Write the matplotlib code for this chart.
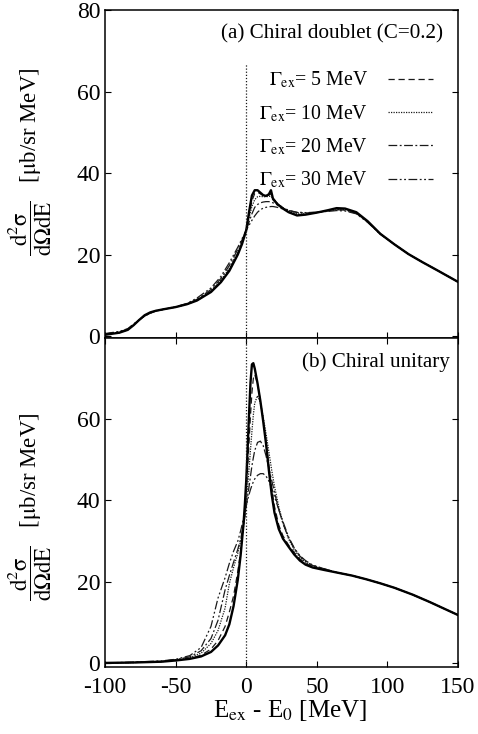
import numpy as np
import matplotlib
matplotlib.use('Agg')
import matplotlib.pyplot as plt

plt.rcParams['font.family'] = ['Liberation Serif', 'DejaVu Serif']
plt.rcParams['mathtext.fontset'] = 'stix'
plt.rcParams['axes.unicode_minus'] = False

# ---- panel (a): chiral doublet (C=0.2)
e_a = [-100, -90, -84, -80, -76, -72, -68, -64, -58, -50, -42, -35, -25, -18, -12, -6, -3, 0, 2, 4, 6, 8, 10, 12,
       14, 16, 17.5, 19, 22, 26, 30, 36, 42, 50, 58, 64, 70, 78, 86, 95, 105, 115, 125, 135, 150]
a_g0 = [0.3, 0.8, 1.5, 2.6, 3.9, 5.1, 5.8, 6.2, 6.6, 7.1, 7.8, 8.7, 10.8, 13.2, 16.0, 20.0, 22.6, 26.0, 30.5, 34.5, 35.8, 35.8, 35.2, 34.6,
        34.4, 34.8, 35.8, 33.6, 32.4, 31.3, 30.4, 29.6, 29.8, 30.3, 30.9, 31.4, 31.3, 30.4, 28.2, 25.1, 22.5, 20.1, 18.1, 16.2, 13.3]
a_g5 = [0.3, 0.8, 1.5, 2.6, 3.9, 5.0, 5.7, 6.2, 6.6, 7.1, 7.8, 8.7, 10.9, 13.4, 16.3, 20.3, 22.9, 26.0, 29.8, 33.2, 35.0, 35.3, 34.9, 34.5,
        34.3, 34.6, 34.9, 34.0, 32.5, 31.3, 30.4, 29.7, 29.9, 30.3, 30.8, 31.3, 31.2, 30.3, 28.1, 25.1, 22.5, 20.1, 18.1, 16.2, 13.3]
a_g10 = [0.4, 0.9, 1.6, 2.7, 3.9, 5.0, 5.7, 6.2, 6.6, 7.1, 7.8, 8.8, 11.1, 13.7, 16.6, 20.6, 23.2, 26.0, 29.0, 31.8, 33.5, 34.2, 34.3, 34.2,
         34.2, 34.3, 34.3, 33.8, 32.6, 31.5, 30.7, 30.0, 30.0, 30.3, 30.8, 31.1, 31.1, 30.2, 28.0, 25.0, 22.5, 20.1, 18.1, 16.2, 13.3]
a_g20 = [0.5, 1.0, 1.7, 2.8, 3.9, 4.9, 5.6, 6.1, 6.6, 7.1, 7.9, 9.0, 11.4, 14.1, 17.3, 21.3, 23.6, 26.0, 28.0, 30.0, 31.6, 32.3, 32.7, 32.9,
         33.0, 33.0, 32.9, 32.7, 32.2, 31.5, 30.9, 30.3, 30.2, 30.4, 30.7, 31.0, 30.9, 30.1, 28.0, 25.0, 22.5, 20.1, 18.1, 16.2, 13.3]
a_g30 = [0.6, 1.1, 1.8, 2.9, 3.9, 4.9, 5.6, 6.1, 6.6, 7.2, 8.0, 9.3, 11.8, 14.6, 18.0, 21.8, 23.9, 26.0, 27.2, 28.4, 29.5, 30.4, 31.0, 31.4,
         31.6, 31.7, 31.8, 31.8, 31.6, 31.2, 30.8, 30.4, 30.3, 30.4, 30.6, 30.8, 30.7, 30.0, 27.9, 25.0, 22.5, 20.1, 18.1, 16.2, 13.3]

# ---- panel (b): chiral unitary
e_b = [-100, -80, -60, -50, -40, -32, -25, -20, -15, -12, -9, -6, -4, -2, -1, 0, 1, 2, 3, 4, 5, 6, 8, 10, 12,
       14, 16, 18, 20, 23, 26, 30, 34, 38, 42, 47, 55, 65, 75, 85, 95, 105, 118, 130, 150]
b_g0 = [0.0, 0.1, 0.3, 0.6, 1.0, 1.6, 2.7, 4.3, 6.8, 9.5, 14.0, 20.5, 26.5, 34.0, 39.0, 45.0, 53.0, 61.5, 69.0, 73.5, 73.8, 72.5, 68.8, 64.5, 59.5,
        54.0, 47.5, 41.5, 37.0, 33.0, 30.6, 28.6, 26.7, 25.2, 24.2, 23.5, 22.9, 22.2, 21.5, 20.6, 19.6, 18.5, 16.8, 15.0, 11.8]
b_g5 = [0.0, 0.1, 0.3, 0.6, 1.1, 1.9, 3.4, 5.5, 9.0, 12.5, 16.5, 22.5, 27.5, 33.5, 37.5, 42.0, 48.0, 54.5, 61.0, 66.5, 70.0, 71.0, 68.7, 64.5, 59.8,
        54.5, 48.5, 43.0, 38.5, 34.0, 31.3, 29.0, 27.2, 25.6, 24.5, 23.7, 23.0, 22.2, 21.5, 20.6, 19.6, 18.5, 16.8, 15.0, 11.8]
b_g10 = [0.0, 0.1, 0.3, 0.7, 1.3, 2.4, 4.8, 8.0, 13.5, 19.5, 23.5, 27.0, 30.0, 33.5, 36.0, 39.5, 43.5, 48.0, 52.5, 57.0, 61.0, 64.0, 65.8, 64.0, 60.5,
         56.5, 52.0, 47.5, 43.5, 38.5, 34.5, 30.5, 27.8, 26.0, 24.8, 23.9, 23.1, 22.2, 21.5, 20.6, 19.6, 18.5, 16.8, 15.0, 11.8]
b_g20 = [0.0, 0.1, 0.4, 0.8, 1.5, 3.0, 6.0, 10.5, 18.0, 21.5, 24.8, 28.0, 30.5, 34.0, 36.0, 38.5, 41.0, 43.5, 46.0, 48.5, 50.5, 52.3, 54.3, 54.6, 53.5,
         51.0, 48.0, 45.0, 42.0, 37.8, 34.3, 30.8, 28.2, 26.3, 25.0, 24.0, 23.2, 22.2, 21.5, 20.6, 19.6, 18.5, 16.8, 15.0, 11.8]
b_g30 = [0.0, 0.2, 0.5, 0.9, 1.8, 3.8, 9.0, 16.0, 21.0, 24.5, 27.5, 30.0, 32.5, 35.5, 37.0, 38.8, 40.2, 41.5, 42.7, 43.7, 44.6, 45.3, 46.2, 46.6, 46.6,
         46.0, 44.8, 43.0, 41.0, 37.8, 34.8, 31.0, 28.3, 26.4, 25.2, 24.1, 23.2, 22.2, 21.5, 20.6, 19.6, 18.5, 16.8, 15.0, 11.8]

widths = ['5', '10', '20', '30']
styles = [(0, (5, 3)), (0, (1, 1)), (0, (7, 2, 1.5, 2)), (0, (7, 2, 1.5, 2, 1.5, 2))]

fig = plt.figure(figsize=(4.78, 7.34), dpi=100)
ax_a = fig.add_axes([0.220, 0.5395, 0.738, 0.4465])
ax_b = fig.add_axes([0.220, 0.0913, 0.738, 0.4482])

col = '#1a1a1a'
ylab = r'$\dfrac{\mathrm{d^2\sigma}}{\mathrm{d\Omega dE}}$   [$\mathrm{\mu}$b/sr MeV]'
for ax, e, base, series in [(ax_a, e_a, a_g0, [a_g5, a_g10, a_g20, a_g30]),
                            (ax_b, e_b, b_g0, [b_g5, b_g10, b_g20, b_g30])]:
    for w, ls, ys in zip(widths, styles, series):
        ax.plot(e, ys, color=col, lw=0.9, ls=ls,
                label=r'$\Gamma_{\rm ex}$= ' + w + ' MeV')
    ax.plot(e, base, color='black', lw=1.7)
    ax.set_xlim(-100, 150)
    ax.set_xticks([-100, -50, 0, 50, 100, 150])
    ax.tick_params(direction='in', length=4, width=0.8, labelsize=17, right=True)
    ax.tick_params(axis='x', pad=7)
    for s in ax.spines.values():
        s.set_linewidth(1.1)
    ax.set_ylabel(ylab, fontsize=16.5)

ax_a.set_ylim(-0.5, 80)
ax_b.set_ylim(-1.0, 80)

ax_a.axvline(0, ymax=67.5 / 80.5, color=col, lw=0.9, ls=(0, (1, 1.5)))
ax_b.axvline(0, color=col, lw=0.9, ls=(0, (1, 1.5)))

ax_a.set_yticks([0, 20, 40, 60, 80])
ax_a.tick_params(labelbottom=False)
ax_b.set_yticks([0, 20, 40, 60])
ax_b.tick_params(top=True)

ax_a.yaxis.set_label_coords(-0.145, 0.537)
ax_b.yaxis.set_label_coords(-0.145, 0.486)

ax_b.set_xlabel(r'E$_{\rm ex}$ - E$_0$ [MeV]', fontsize=18)
ax_b.xaxis.set_label_coords(0.523, -0.095)

ax_a.text(0.958, 0.927, '(a) Chiral doublet (C=0.2)', transform=ax_a.transAxes,
          ha='right', va='center', fontsize=15.2)
ax_b.text(0.978, 0.928, '(b) Chiral unitary', transform=ax_b.transAxes,
          ha='right', va='center', fontsize=15.2)

ax_a.legend(loc='upper right', bbox_to_anchor=(0.929, 0.818), frameon=False, fontsize=14.2,
            markerfirst=False, handlelength=2.3, handletextpad=1.0, labelspacing=0.64,
            borderpad=0, borderaxespad=0)

fig.savefig('out.png', dpi=100)
